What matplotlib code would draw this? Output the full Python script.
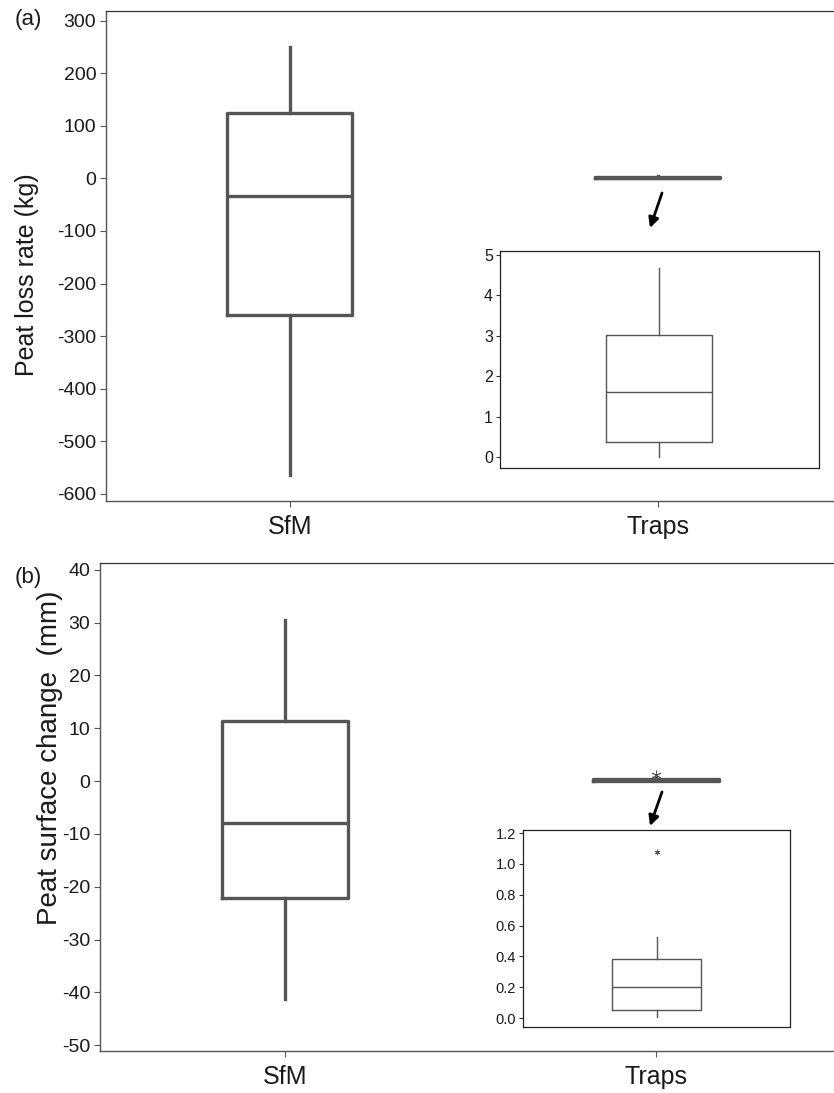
import matplotlib
matplotlib.use("Agg")
import matplotlib.pyplot as plt

plt.rcParams['font.family'] = ['Liberation Sans', 'DejaVu Sans']

# ---------------- data ----------------
categories = ["SfM", "Traps"]

# panel (a): Peat loss rate (kg)
a_sfm = [-565, -260, -34, 124, 250]      # whislo, q1, med, q3, whishi
a_traps = [0.0, 0.37, 1.61, 3.02, 4.68]
a_yticks = [300, 200, 100, 0, -100, -200, -300, -400, -500, -600]
a_inset_ticks = [0, 1, 2, 3, 4, 5]

# panel (b): Peat surface change (mm)
b_sfm = [-41.3, -22.1, -7.9, 11.4, 30.6]
b_traps = [0.005, 0.055, 0.20, 0.385, 0.525]
b_traps_outliers = [1.08]
b_yticks = [40, 30, 20, 10, 0, -10, -20, -30, -40, -50]
b_inset_ticks = [0.0, 0.2, 0.4, 0.6, 0.8, 1.0, 1.2]

BOX_COL = "#555555"
W, H = 834, 1093
fig = plt.figure(figsize=(W / 100, H / 100), dpi=100)


def stats(v, label, fliers=()):
    return dict(whislo=v[0], q1=v[1], med=v[2], q3=v[3], whishi=v[4],
                fliers=list(fliers), label=label)


def ax_rect(l, t, r, b):
    return [l / W, 1 - b / H, (r - l) / W, (b - t) / H]


def style_main(ax, yticks, ylim, ylabel, lab_x, lab_y, lab_fs):
    ax.set_xlim(0.5, 2.48)
    ax.set_ylim(*ylim)
    ax.set_yticks(yticks)
    ax.set_yticklabels([str(t) for t in yticks])
    ax.set_xticks([1, 2])
    ax.set_xticklabels(categories)
    ax.spines['right'].set_visible(False)
    for s in ['left', 'bottom']:
        ax.spines[s].set_color('#555555')
        ax.spines[s].set_linewidth(1.0)
    ax.spines['top'].set_color('#333333')
    ax.spines['top'].set_linewidth(0.9)
    ax.tick_params(axis='y', labelsize=14, length=4, color='#555555',
                   labelcolor='#1a1a1a', pad=3)
    ax.tick_params(axis='x', labelsize=18, length=4, color='#555555',
                   labelcolor='#1a1a1a', pad=6)
    ax.set_ylabel(ylabel, fontsize=lab_fs, color='#1a1a1a')
    ax.yaxis.set_label_coords(lab_x, lab_y)


def style_inset(ax, ticks, ylim, xlim, fs, fmt):
    ax.set_ylim(*ylim)
    ax.set_xlim(*xlim)
    ax.set_yticks(ticks)
    ax.set_yticklabels([fmt.format(t) for t in ticks])
    ax.set_xticks([])
    for s in ax.spines.values():
        s.set_color('#222222')
        s.set_linewidth(0.9)
    ax.tick_params(axis='y', labelsize=fs, length=3, pad=2,
                   color='#333333', labelcolor='#1a1a1a')


main_props = dict(
    boxprops=dict(color=BOX_COL, linewidth=2.4),
    medianprops=dict(color=BOX_COL, linewidth=2.4),
    whiskerprops=dict(color=BOX_COL, linewidth=2.4),
    capprops=dict(linewidth=0),
)
inset_props = dict(
    boxprops=dict(color=BOX_COL, linewidth=1.0),
    medianprops=dict(color=BOX_COL, linewidth=1.0),
    whiskerprops=dict(color=BOX_COL, linewidth=1.0),
    capprops=dict(linewidth=0),
)
arrow_props = dict(arrowstyle='-|>', color='black', lw=2.0,
                   mutation_scale=15, shrinkA=0, shrinkB=0)

# ---------------- panel (a) ----------------
axa = fig.add_axes(ax_rect(106, 11, 834, 501))
axa.bxp([stats(a_sfm, categories[0]), stats(a_traps, categories[1])],
        positions=[1, 2], widths=0.34, showfliers=False, **main_props)
style_main(axa, a_yticks, (-614, 318.7), "Peat loss rate (kg)", -0.092, 0.462, 18)
fig.text(28 / W, 1 - 20 / H, "(a)", fontsize=16,
         ha='center', va='center', color='#1a1a1a')
axa.annotate("", xy=(650 / W, 1 - 228 / H), xytext=(662 / W, 1 - 193 / H),
             xycoords='figure fraction', textcoords='figure fraction',
             arrowprops=arrow_props)

insa = fig.add_axes(ax_rect(500, 251, 819, 468))
insa.bxp([stats(a_traps, "")], positions=[1], widths=0.5, showfliers=False,
         **inset_props)
style_inset(insa, a_inset_ticks, (-0.27, 5.1), (0.25, 1.755), 11.5, "{:d}")

# ---------------- panel (b) ----------------
axb = fig.add_axes(ax_rect(100, 563, 834, 1051))
axb.bxp([stats(b_sfm, categories[0]), stats(b_traps, categories[1], b_traps_outliers)],
        positions=[1, 2], widths=0.34, showfliers=True,
        flierprops=dict(marker=(6, 2, 0), markersize=7, markeredgecolor=BOX_COL,
                        markeredgewidth=0.6, linestyle='none'),
        **main_props)
style_main(axb, b_yticks, (-51.1, 41.3), "Peat surface change  (mm)", -0.05, 0.60, 20)
fig.text(28 / W, 1 - 577 / H, "(b)", fontsize=16,
         ha='center', va='center', color='#1a1a1a')
axb.annotate("", xy=(650 / W, 1 - 826 / H), xytext=(662 / W, 1 - 792 / H),
             xycoords='figure fraction', textcoords='figure fraction',
             arrowprops=arrow_props)

insb = fig.add_axes(ax_rect(523, 830, 790, 1027))
insb.bxp([stats(b_traps, "", b_traps_outliers)], positions=[1], widths=0.333,
         showfliers=True,
         flierprops=dict(marker=(6, 2, 0), markersize=4, markeredgecolor=BOX_COL,
                         markeredgewidth=0.6, linestyle='none'),
         **inset_props)
style_inset(insb, b_inset_ticks, (-0.058, 1.22), (0.5, 1.5), 10.5, "{:.1f}")

fig.savefig("out.png", dpi=100)
